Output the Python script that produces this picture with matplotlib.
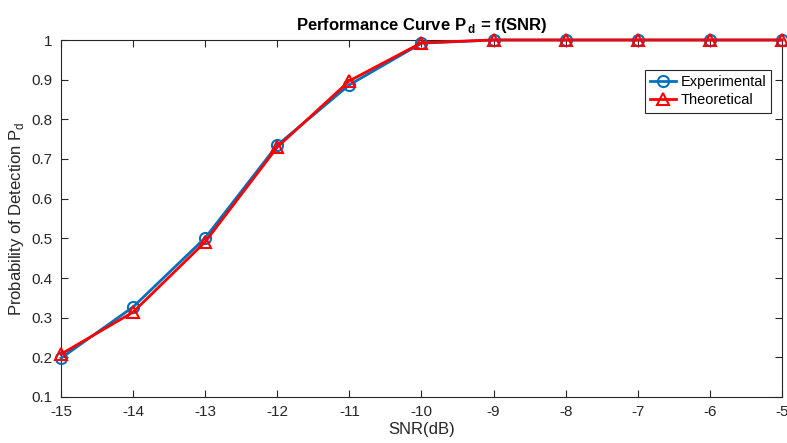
import matplotlib
matplotlib.use("Agg")
import matplotlib.pyplot as plt

plt.rcParams['font.family'] = ['Liberation Sans', 'DejaVu Sans']

# data
snr = [-15, -14, -13, -12, -11, -10, -9, -8, -7, -6, -5]
pd_experimental = [0.198, 0.327, 0.501, 0.735, 0.887, 0.992, 1, 1, 1, 1, 1]
pd_theoretical = [0.208, 0.314, 0.491, 0.730, 0.897, 0.993, 1, 1, 1, 1, 1]
yticks = [0.1, 0.2, 0.3, 0.4, 0.5, 0.6, 0.7, 0.8, 0.9, 1]
ytick_labels = ['0.1', '0.2', '0.3', '0.4', '0.5', '0.6', '0.7', '0.8', '0.9', '1']

gray = '#262626'

fig = plt.figure(figsize=(7.87, 4.43), dpi=100)
ax = fig.add_axes([61 / 787, 46 / 443, 721 / 787, 357 / 443])

ax.plot(snr, pd_experimental, color='#0072BD', linewidth=2, marker='o',
        markersize=8, markerfacecolor='none', markeredgewidth=1.5,
        label='Experimental', clip_on=False, zorder=3)
ax.plot(snr, pd_theoretical, color='#FF0000', linewidth=2, marker='^',
        markersize=9, markerfacecolor='none', markeredgewidth=1.5,
        label='Theoretical', clip_on=False, zorder=3)

ax.set_xlim(-15, -5)
ax.set_ylim(0.1, 1)
ax.set_xticks(snr)
ax.set_xticklabels([str(s) for s in snr])
ax.set_yticks(yticks)
ax.set_yticklabels(ytick_labels)

ax.tick_params(direction='in', top=True, right=True, length=5, width=0.8,
               colors=gray, labelsize=11, pad=6)
for s in ax.spines.values():
    s.set_color(gray)
    s.set_linewidth(0.8)

ax.set_xlabel('SNR(dB)', fontsize=12, color=gray, labelpad=2)
ax.set_ylabel('Probability of Detection P$_\\mathregular{d}$', fontsize=12, color=gray, labelpad=4)
ax.set_title('Performance Curve P$\\,_\\mathregular{d}$ = f(SNR)', fontsize=12,
             fontweight='bold', pad=7)

leg = ax.legend(loc='upper right', bbox_to_anchor=(0.985, 0.916), fontsize=10.5,
                fancybox=False, framealpha=1, edgecolor=gray, borderpad=0.35,
                borderaxespad=0, handlelength=1.8, handletextpad=0.3,
                labelspacing=0.3)
leg.get_frame().set_linewidth(0.8)

fig.savefig('out.png', dpi=100)
